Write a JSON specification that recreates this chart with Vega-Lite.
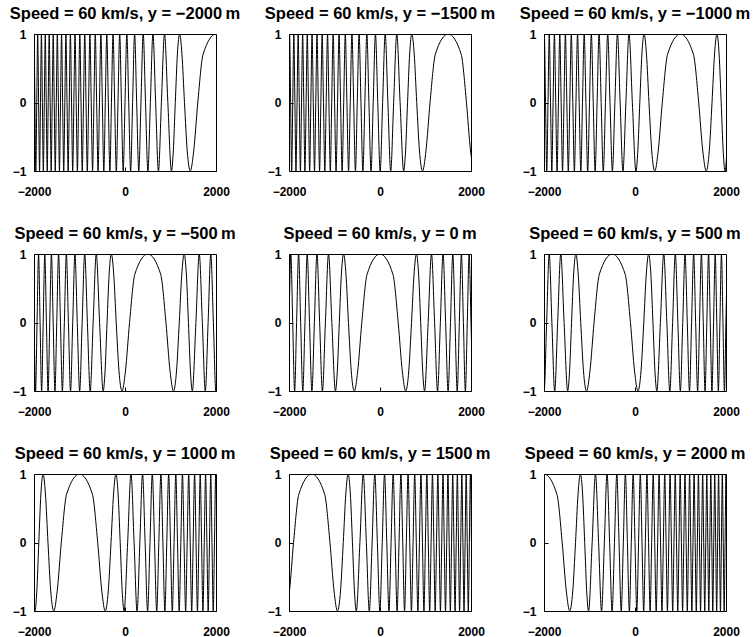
{
"$schema": "https://vega.github.io/schema/vega-lite/v6.json",
"background": "white",
"padding": {"left": 9, "top": 5, "right": 5, "bottom": 5},
"data": {"values": [
{"p":-2000,"x":2282.8,"v":0.7071},{"p":-2000,"x":2000,"v":1},{"p":-2000,"x":1717.2,"v":0.7071},{"p":-2000,"x":1600,"v":0},{"p":-2000,"x":1510.1,"v":-0.7071},{"p":-2000,"x":1434.3,"v":-1},{"p":-2000,"x":1367.5,"v":-0.7071},{"p":-2000,"x":1307.2,"v":0},{"p":-2000,"x":1251.7,"v":0.7071},{"p":-2000,"x":1200,"v":1},{"p":-2000,"x":1151.5,"v":0.7071},{"p":-2000,"x":1105.6,"v":0},{"p":-2000,"x":1061.9,"v":-0.7071},{"p":-2000,"x":1020.2,"v":-1},
{"p":-2000,"x":941.7,"v":0},{"p":-2000,"x":868.6,"v":1},{"p":-2000,"x":800,"v":0},{"p":-2000,"x":735.1,"v":-1},{"p":-2000,"x":673.4,"v":0},{"p":-2000,"x":614.4,"v":1},{"p":-2000,"x":557.8,"v":0},{"p":-2000,"x":503.3,"v":-1},{"p":-2000,"x":450.8,"v":0},{"p":-2000,"x":400,"v":1},{"p":-2000,"x":350.8,"v":0},{"p":-2000,"x":302.9,"v":-1},{"p":-2000,"x":256.4,"v":0},{"p":-2000,"x":211.1,"v":1},{"p":-2000,"x":167,"v":0},{"p":-2000,"x":123.8,"v":-1},{"p":-2000,"x":81.7,"v":0},{"p":-2000,"x":40.4,"v":1},{"p":-2000,"x":0,"v":0},{"p":-2000,"x":-39.6,"v":-1},{"p":-2000,"x":-78.5,"v":0},{"p":-2000,"x":-116.6,"v":1},{"p":-2000,"x":-154.1,"v":0},{"p":-2000,"x":-190.9,"v":-1},{"p":-2000,"x":-227.1,"v":0},{"p":-2000,"x":-262.7,"v":1},{"p":-2000,"x":-297.8,"v":0},{"p":-2000,"x":-332.4,"v":-1},{"p":-2000,"x":-366.4,"v":0},{"p":-2000,"x":-400,"v":1},{"p":-2000,"x":-433.1,"v":0},{"p":-2000,"x":-465.8,"v":-1},{"p":-2000,"x":-498,"v":0},{"p":-2000,"x":-529.8,"v":1},{"p":-2000,"x":-561.2,"v":0},{"p":-2000,"x":-592.3,"v":-1},{"p":-2000,"x":-623,"v":0},{"p":-2000,"x":-653.3,"v":1},{"p":-2000,"x":-683.3,"v":0},{"p":-2000,"x":-712.9,"v":-1},{"p":-2000,"x":-742.3,"v":0},{"p":-2000,"x":-771.3,"v":1},{"p":-2000,"x":-800,"v":0},{"p":-2000,"x":-828.4,"v":-1},{"p":-2000,"x":-856.6,"v":0},{"p":-2000,"x":-884.4,"v":1},{"p":-2000,"x":-912,"v":0},{"p":-2000,"x":-939.4,"v":-1},{"p":-2000,"x":-966.5,"v":0},{"p":-2000,"x":-993.3,"v":1},{"p":-2000,"x":-1019.9,"v":0},{"p":-2000,"x":-1046.3,"v":-1},{"p":-2000,"x":-1072.5,"v":0},{"p":-2000,"x":-1098.4,"v":1},{"p":-2000,"x":-1124.1,"v":0},{"p":-2000,"x":-1149.6,"v":-1},{"p":-2000,"x":-1174.9,"v":0},{"p":-2000,"x":-1200,"v":1},{"p":-2000,"x":-1224.9,"v":0},{"p":-2000,"x":-1249.6,"v":-1},{"p":-2000,"x":-1274.1,"v":0},{"p":-2000,"x":-1298.5,"v":1},{"p":-2000,"x":-1322.6,"v":0},{"p":-2000,"x":-1346.6,"v":-1},{"p":-2000,"x":-1370.5,"v":0},{"p":-2000,"x":-1394.1,"v":1},{"p":-2000,"x":-1417.6,"v":0},{"p":-2000,"x":-1440.9,"v":-1},{"p":-2000,"x":-1464.1,"v":0},{"p":-2000,"x":-1487.1,"v":1},{"p":-2000,"x":-1510,"v":0},{"p":-2000,"x":-1532.7,"v":-1},{"p":-2000,"x":-1555.3,"v":0},{"p":-2000,"x":-1577.7,"v":1},{"p":-2000,"x":-1600,"v":0},{"p":-2000,"x":-1622.2,"v":-1},{"p":-2000,"x":-1644.2,"v":0},{"p":-2000,"x":-1666.1,"v":1},{"p":-2000,"x":-1687.8,"v":0},{"p":-2000,"x":-1709.4,"v":-1},{"p":-2000,"x":-1731,"v":0},{"p":-2000,"x":-1752.3,"v":1},{"p":-2000,"x":-1773.6,"v":0},{"p":-2000,"x":-1794.7,"v":-1},{"p":-2000,"x":-1815.8,"v":0},{"p":-2000,"x":-1836.7,"v":1},{"p":-2000,"x":-1857.5,"v":0},{"p":-2000,"x":-1878.1,"v":-1},{"p":-2000,"x":-1898.7,"v":0},{"p":-2000,"x":-1919.2,"v":1},{"p":-2000,"x":-1939.5,"v":0},{"p":-2000,"x":-1959.8,"v":-1},{"p":-2000,"x":-1980,"v":0},{"p":-2000,"x":-2000,"v":1},{"p":-2000,"x":-2019.9,"v":0},

{"p":2000,"x":-2282.8,"v":0.7071},{"p":2000,"x":-2000,"v":1},{"p":2000,"x":-1717.2,"v":0.7071},{"p":2000,"x":-1600,"v":0},{"p":2000,"x":-1510.1,"v":-0.7071},{"p":2000,"x":-1434.3,"v":-1},{"p":2000,"x":-1367.5,"v":-0.7071},{"p":2000,"x":-1307.2,"v":0},{"p":2000,"x":-1251.7,"v":0.7071},{"p":2000,"x":-1200,"v":1},{"p":2000,"x":-1151.5,"v":0.7071},{"p":2000,"x":-1105.6,"v":0},{"p":2000,"x":-1061.9,"v":-0.7071},{"p":2000,"x":-1020.2,"v":-1},
{"p":2000,"x":-941.7,"v":0},{"p":2000,"x":-868.6,"v":1},{"p":2000,"x":-800,"v":0},{"p":2000,"x":-735.1,"v":-1},{"p":2000,"x":-673.4,"v":0},{"p":2000,"x":-614.4,"v":1},{"p":2000,"x":-557.8,"v":0},{"p":2000,"x":-503.3,"v":-1},{"p":2000,"x":-450.8,"v":0},{"p":2000,"x":-400,"v":1},{"p":2000,"x":-350.8,"v":0},{"p":2000,"x":-302.9,"v":-1},{"p":2000,"x":-256.4,"v":0},{"p":2000,"x":-211.1,"v":1},{"p":2000,"x":-167,"v":0},{"p":2000,"x":-123.8,"v":-1},{"p":2000,"x":-81.7,"v":0},{"p":2000,"x":-40.4,"v":1},{"p":2000,"x":0,"v":0},{"p":2000,"x":39.6,"v":-1},{"p":2000,"x":78.5,"v":0},{"p":2000,"x":116.6,"v":1},{"p":2000,"x":154.1,"v":0},{"p":2000,"x":190.9,"v":-1},{"p":2000,"x":227.1,"v":0},{"p":2000,"x":262.7,"v":1},{"p":2000,"x":297.8,"v":0},{"p":2000,"x":332.4,"v":-1},{"p":2000,"x":366.4,"v":0},{"p":2000,"x":400,"v":1},{"p":2000,"x":433.1,"v":0},{"p":2000,"x":465.8,"v":-1},{"p":2000,"x":498,"v":0},{"p":2000,"x":529.8,"v":1},{"p":2000,"x":561.2,"v":0},{"p":2000,"x":592.3,"v":-1},{"p":2000,"x":623,"v":0},{"p":2000,"x":653.3,"v":1},{"p":2000,"x":683.3,"v":0},{"p":2000,"x":712.9,"v":-1},{"p":2000,"x":742.3,"v":0},{"p":2000,"x":771.3,"v":1},{"p":2000,"x":800,"v":0},{"p":2000,"x":828.4,"v":-1},{"p":2000,"x":856.6,"v":0},{"p":2000,"x":884.4,"v":1},{"p":2000,"x":912,"v":0},{"p":2000,"x":939.4,"v":-1},{"p":2000,"x":966.5,"v":0},{"p":2000,"x":993.3,"v":1},{"p":2000,"x":1019.9,"v":0},{"p":2000,"x":1046.3,"v":-1},{"p":2000,"x":1072.5,"v":0},{"p":2000,"x":1098.4,"v":1},{"p":2000,"x":1124.1,"v":0},{"p":2000,"x":1149.6,"v":-1},{"p":2000,"x":1174.9,"v":0},{"p":2000,"x":1200,"v":1},{"p":2000,"x":1224.9,"v":0},{"p":2000,"x":1249.6,"v":-1},{"p":2000,"x":1274.1,"v":0},{"p":2000,"x":1298.5,"v":1},{"p":2000,"x":1322.6,"v":0},{"p":2000,"x":1346.6,"v":-1},{"p":2000,"x":1370.5,"v":0},{"p":2000,"x":1394.1,"v":1},{"p":2000,"x":1417.6,"v":0},{"p":2000,"x":1440.9,"v":-1},{"p":2000,"x":1464.1,"v":0},{"p":2000,"x":1487.1,"v":1},{"p":2000,"x":1510,"v":0},{"p":2000,"x":1532.7,"v":-1},{"p":2000,"x":1555.3,"v":0},{"p":2000,"x":1577.7,"v":1},{"p":2000,"x":1600,"v":0},{"p":2000,"x":1622.2,"v":-1},{"p":2000,"x":1644.2,"v":0},{"p":2000,"x":1666.1,"v":1},{"p":2000,"x":1687.8,"v":0},{"p":2000,"x":1709.4,"v":-1},{"p":2000,"x":1731,"v":0},{"p":2000,"x":1752.3,"v":1},{"p":2000,"x":1773.6,"v":0},{"p":2000,"x":1794.7,"v":-1},{"p":2000,"x":1815.8,"v":0},{"p":2000,"x":1836.7,"v":1},{"p":2000,"x":1857.5,"v":0},{"p":2000,"x":1878.1,"v":-1},{"p":2000,"x":1898.7,"v":0},{"p":2000,"x":1919.2,"v":1},{"p":2000,"x":1939.5,"v":0},{"p":2000,"x":1959.8,"v":-1},{"p":2000,"x":1980,"v":0},{"p":2000,"x":2000,"v":1},{"p":2000,"x":2019.9,"v":0},

{"p":-1500,"x":2065.7,"v":-1},{"p":-1500,"x":1989.9,"v":-0.7071},{"p":-1500,"x":1900,"v":0},{"p":-1500,"x":1782.8,"v":0.7071},{"p":-1500,"x":1500,"v":1},{"p":-1500,"x":1217.2,"v":0.7071},{"p":-1500,"x":1100,"v":0},{"p":-1500,"x":1010.1,"v":-0.7071},{"p":-1500,"x":934.3,"v":-1},{"p":-1500,"x":867.5,"v":-0.7071},{"p":-1500,"x":807.2,"v":0},{"p":-1500,"x":751.7,"v":0.7071},{"p":-1500,"x":700,"v":1},{"p":-1500,"x":651.5,"v":0.7071},{"p":-1500,"x":605.6,"v":0},{"p":-1500,"x":561.9,"v":-0.7071},{"p":-1500,"x":520.2,"v":-1},
{"p":-1500,"x":441.7,"v":0},{"p":-1500,"x":368.6,"v":1},{"p":-1500,"x":300,"v":0},{"p":-1500,"x":235.1,"v":-1},{"p":-1500,"x":173.4,"v":0},{"p":-1500,"x":114.4,"v":1},{"p":-1500,"x":57.8,"v":0},{"p":-1500,"x":3.3,"v":-1},{"p":-1500,"x":-49.2,"v":0},{"p":-1500,"x":-100,"v":1},{"p":-1500,"x":-149.2,"v":0},{"p":-1500,"x":-197.1,"v":-1},{"p":-1500,"x":-243.6,"v":0},{"p":-1500,"x":-288.9,"v":1},{"p":-1500,"x":-333,"v":0},{"p":-1500,"x":-376.2,"v":-1},{"p":-1500,"x":-418.3,"v":0},{"p":-1500,"x":-459.6,"v":1},{"p":-1500,"x":-500,"v":0},{"p":-1500,"x":-539.6,"v":-1},{"p":-1500,"x":-578.5,"v":0},{"p":-1500,"x":-616.6,"v":1},{"p":-1500,"x":-654.1,"v":0},{"p":-1500,"x":-690.9,"v":-1},{"p":-1500,"x":-727.1,"v":0},{"p":-1500,"x":-762.7,"v":1},{"p":-1500,"x":-797.8,"v":0},{"p":-1500,"x":-832.4,"v":-1},{"p":-1500,"x":-866.4,"v":0},{"p":-1500,"x":-900,"v":1},{"p":-1500,"x":-933.1,"v":0},{"p":-1500,"x":-965.8,"v":-1},{"p":-1500,"x":-998,"v":0},{"p":-1500,"x":-1029.8,"v":1},{"p":-1500,"x":-1061.2,"v":0},{"p":-1500,"x":-1092.3,"v":-1},{"p":-1500,"x":-1123,"v":0},{"p":-1500,"x":-1153.3,"v":1},{"p":-1500,"x":-1183.3,"v":0},{"p":-1500,"x":-1212.9,"v":-1},{"p":-1500,"x":-1242.3,"v":0},{"p":-1500,"x":-1271.3,"v":1},{"p":-1500,"x":-1300,"v":0},{"p":-1500,"x":-1328.4,"v":-1},{"p":-1500,"x":-1356.6,"v":0},{"p":-1500,"x":-1384.4,"v":1},{"p":-1500,"x":-1412,"v":0},{"p":-1500,"x":-1439.4,"v":-1},{"p":-1500,"x":-1466.5,"v":0},{"p":-1500,"x":-1493.3,"v":1},{"p":-1500,"x":-1519.9,"v":0},{"p":-1500,"x":-1546.3,"v":-1},{"p":-1500,"x":-1572.5,"v":0},{"p":-1500,"x":-1598.4,"v":1},{"p":-1500,"x":-1624.1,"v":0},{"p":-1500,"x":-1649.6,"v":-1},{"p":-1500,"x":-1674.9,"v":0},{"p":-1500,"x":-1700,"v":1},{"p":-1500,"x":-1724.9,"v":0},{"p":-1500,"x":-1749.6,"v":-1},{"p":-1500,"x":-1774.1,"v":0},{"p":-1500,"x":-1798.5,"v":1},{"p":-1500,"x":-1822.6,"v":0},{"p":-1500,"x":-1846.6,"v":-1},{"p":-1500,"x":-1870.5,"v":0},{"p":-1500,"x":-1894.1,"v":1},{"p":-1500,"x":-1917.6,"v":0},{"p":-1500,"x":-1940.9,"v":-1},{"p":-1500,"x":-1964.1,"v":0},{"p":-1500,"x":-1987.1,"v":1},{"p":-1500,"x":-2010,"v":0},

{"p":1500,"x":-2065.7,"v":-1},{"p":1500,"x":-1989.9,"v":-0.7071},{"p":1500,"x":-1900,"v":0},{"p":1500,"x":-1782.8,"v":0.7071},{"p":1500,"x":-1500,"v":1},{"p":1500,"x":-1217.2,"v":0.7071},{"p":1500,"x":-1100,"v":0},{"p":1500,"x":-1010.1,"v":-0.7071},{"p":1500,"x":-934.3,"v":-1},{"p":1500,"x":-867.5,"v":-0.7071},{"p":1500,"x":-807.2,"v":0},{"p":1500,"x":-751.7,"v":0.7071},{"p":1500,"x":-700,"v":1},{"p":1500,"x":-651.5,"v":0.7071},{"p":1500,"x":-605.6,"v":0},{"p":1500,"x":-561.9,"v":-0.7071},{"p":1500,"x":-520.2,"v":-1},
{"p":1500,"x":-441.7,"v":0},{"p":1500,"x":-368.6,"v":1},{"p":1500,"x":-300,"v":0},{"p":1500,"x":-235.1,"v":-1},{"p":1500,"x":-173.4,"v":0},{"p":1500,"x":-114.4,"v":1},{"p":1500,"x":-57.8,"v":0},{"p":1500,"x":-3.3,"v":-1},{"p":1500,"x":49.2,"v":0},{"p":1500,"x":100,"v":1},{"p":1500,"x":149.2,"v":0},{"p":1500,"x":197.1,"v":-1},{"p":1500,"x":243.6,"v":0},{"p":1500,"x":288.9,"v":1},{"p":1500,"x":333,"v":0},{"p":1500,"x":376.2,"v":-1},{"p":1500,"x":418.3,"v":0},{"p":1500,"x":459.6,"v":1},{"p":1500,"x":500,"v":0},{"p":1500,"x":539.6,"v":-1},{"p":1500,"x":578.5,"v":0},{"p":1500,"x":616.6,"v":1},{"p":1500,"x":654.1,"v":0},{"p":1500,"x":690.9,"v":-1},{"p":1500,"x":727.1,"v":0},{"p":1500,"x":762.7,"v":1},{"p":1500,"x":797.8,"v":0},{"p":1500,"x":832.4,"v":-1},{"p":1500,"x":866.4,"v":0},{"p":1500,"x":900,"v":1},{"p":1500,"x":933.1,"v":0},{"p":1500,"x":965.8,"v":-1},{"p":1500,"x":998,"v":0},{"p":1500,"x":1029.8,"v":1},{"p":1500,"x":1061.2,"v":0},{"p":1500,"x":1092.3,"v":-1},{"p":1500,"x":1123,"v":0},{"p":1500,"x":1153.3,"v":1},{"p":1500,"x":1183.3,"v":0},{"p":1500,"x":1212.9,"v":-1},{"p":1500,"x":1242.3,"v":0},{"p":1500,"x":1271.3,"v":1},{"p":1500,"x":1300,"v":0},{"p":1500,"x":1328.4,"v":-1},{"p":1500,"x":1356.6,"v":0},{"p":1500,"x":1384.4,"v":1},{"p":1500,"x":1412,"v":0},{"p":1500,"x":1439.4,"v":-1},{"p":1500,"x":1466.5,"v":0},{"p":1500,"x":1493.3,"v":1},{"p":1500,"x":1519.9,"v":0},{"p":1500,"x":1546.3,"v":-1},{"p":1500,"x":1572.5,"v":0},{"p":1500,"x":1598.4,"v":1},{"p":1500,"x":1624.1,"v":0},{"p":1500,"x":1649.6,"v":-1},{"p":1500,"x":1674.9,"v":0},{"p":1500,"x":1700,"v":1},{"p":1500,"x":1724.9,"v":0},{"p":1500,"x":1749.6,"v":-1},{"p":1500,"x":1774.1,"v":0},{"p":1500,"x":1798.5,"v":1},{"p":1500,"x":1822.6,"v":0},{"p":1500,"x":1846.6,"v":-1},{"p":1500,"x":1870.5,"v":0},{"p":1500,"x":1894.1,"v":1},{"p":1500,"x":1917.6,"v":0},{"p":1500,"x":1940.9,"v":-1},{"p":1500,"x":1964.1,"v":0},{"p":1500,"x":1987.1,"v":1},{"p":1500,"x":2010,"v":0},

{"p":-1000,"x":2058.3,"v":0},{"p":-1000,"x":1979.8,"v":-1},{"p":-1000,"x":1938.1,"v":-0.7071},{"p":-1000,"x":1894.4,"v":0},{"p":-1000,"x":1848.5,"v":0.7071},{"p":-1000,"x":1800,"v":1},{"p":-1000,"x":1748.3,"v":0.7071},{"p":-1000,"x":1692.8,"v":0},{"p":-1000,"x":1632.5,"v":-0.7071},{"p":-1000,"x":1565.7,"v":-1},{"p":-1000,"x":1489.9,"v":-0.7071},{"p":-1000,"x":1400,"v":0},{"p":-1000,"x":1282.8,"v":0.7071},{"p":-1000,"x":1000,"v":1},{"p":-1000,"x":717.2,"v":0.7071},{"p":-1000,"x":600,"v":0},{"p":-1000,"x":510.1,"v":-0.7071},{"p":-1000,"x":434.3,"v":-1},{"p":-1000,"x":367.5,"v":-0.7071},{"p":-1000,"x":307.2,"v":0},{"p":-1000,"x":251.7,"v":0.7071},{"p":-1000,"x":200,"v":1},{"p":-1000,"x":151.5,"v":0.7071},{"p":-1000,"x":105.6,"v":0},{"p":-1000,"x":61.9,"v":-0.7071},{"p":-1000,"x":20.2,"v":-1},
{"p":-1000,"x":-58.3,"v":0},{"p":-1000,"x":-131.4,"v":1},{"p":-1000,"x":-200,"v":0},{"p":-1000,"x":-264.9,"v":-1},{"p":-1000,"x":-326.6,"v":0},{"p":-1000,"x":-385.6,"v":1},{"p":-1000,"x":-442.2,"v":0},{"p":-1000,"x":-496.7,"v":-1},{"p":-1000,"x":-549.2,"v":0},{"p":-1000,"x":-600,"v":1},{"p":-1000,"x":-649.2,"v":0},{"p":-1000,"x":-697.1,"v":-1},{"p":-1000,"x":-743.6,"v":0},{"p":-1000,"x":-788.9,"v":1},{"p":-1000,"x":-833,"v":0},{"p":-1000,"x":-876.2,"v":-1},{"p":-1000,"x":-918.3,"v":0},{"p":-1000,"x":-959.6,"v":1},{"p":-1000,"x":-1000,"v":0},{"p":-1000,"x":-1039.6,"v":-1},{"p":-1000,"x":-1078.5,"v":0},{"p":-1000,"x":-1116.6,"v":1},{"p":-1000,"x":-1154.1,"v":0},{"p":-1000,"x":-1190.9,"v":-1},{"p":-1000,"x":-1227.1,"v":0},{"p":-1000,"x":-1262.7,"v":1},{"p":-1000,"x":-1297.8,"v":0},{"p":-1000,"x":-1332.4,"v":-1},{"p":-1000,"x":-1366.4,"v":0},{"p":-1000,"x":-1400,"v":1},{"p":-1000,"x":-1433.1,"v":0},{"p":-1000,"x":-1465.8,"v":-1},{"p":-1000,"x":-1498,"v":0},{"p":-1000,"x":-1529.8,"v":1},{"p":-1000,"x":-1561.2,"v":0},{"p":-1000,"x":-1592.3,"v":-1},{"p":-1000,"x":-1623,"v":0},{"p":-1000,"x":-1653.3,"v":1},{"p":-1000,"x":-1683.3,"v":0},{"p":-1000,"x":-1712.9,"v":-1},{"p":-1000,"x":-1742.3,"v":0},{"p":-1000,"x":-1771.3,"v":1},{"p":-1000,"x":-1800,"v":0},{"p":-1000,"x":-1828.4,"v":-1},{"p":-1000,"x":-1856.6,"v":0},{"p":-1000,"x":-1884.4,"v":1},{"p":-1000,"x":-1912,"v":0},{"p":-1000,"x":-1939.4,"v":-1},{"p":-1000,"x":-1966.5,"v":0},{"p":-1000,"x":-1993.3,"v":1},{"p":-1000,"x":-2019.9,"v":0},

{"p":1000,"x":-2058.3,"v":0},{"p":1000,"x":-1979.8,"v":-1},{"p":1000,"x":-1938.1,"v":-0.7071},{"p":1000,"x":-1894.4,"v":0},{"p":1000,"x":-1848.5,"v":0.7071},{"p":1000,"x":-1800,"v":1},{"p":1000,"x":-1748.3,"v":0.7071},{"p":1000,"x":-1692.8,"v":0},{"p":1000,"x":-1632.5,"v":-0.7071},{"p":1000,"x":-1565.7,"v":-1},{"p":1000,"x":-1489.9,"v":-0.7071},{"p":1000,"x":-1400,"v":0},{"p":1000,"x":-1282.8,"v":0.7071},{"p":1000,"x":-1000,"v":1},{"p":1000,"x":-717.2,"v":0.7071},{"p":1000,"x":-600,"v":0},{"p":1000,"x":-510.1,"v":-0.7071},{"p":1000,"x":-434.3,"v":-1},{"p":1000,"x":-367.5,"v":-0.7071},{"p":1000,"x":-307.2,"v":0},{"p":1000,"x":-251.7,"v":0.7071},{"p":1000,"x":-200,"v":1},{"p":1000,"x":-151.5,"v":0.7071},{"p":1000,"x":-105.6,"v":0},{"p":1000,"x":-61.9,"v":-0.7071},{"p":1000,"x":-20.2,"v":-1},
{"p":1000,"x":58.3,"v":0},{"p":1000,"x":131.4,"v":1},{"p":1000,"x":200,"v":0},{"p":1000,"x":264.9,"v":-1},{"p":1000,"x":326.6,"v":0},{"p":1000,"x":385.6,"v":1},{"p":1000,"x":442.2,"v":0},{"p":1000,"x":496.7,"v":-1},{"p":1000,"x":549.2,"v":0},{"p":1000,"x":600,"v":1},{"p":1000,"x":649.2,"v":0},{"p":1000,"x":697.1,"v":-1},{"p":1000,"x":743.6,"v":0},{"p":1000,"x":788.9,"v":1},{"p":1000,"x":833,"v":0},{"p":1000,"x":876.2,"v":-1},{"p":1000,"x":918.3,"v":0},{"p":1000,"x":959.6,"v":1},{"p":1000,"x":1000,"v":0},{"p":1000,"x":1039.6,"v":-1},{"p":1000,"x":1078.5,"v":0},{"p":1000,"x":1116.6,"v":1},{"p":1000,"x":1154.1,"v":0},{"p":1000,"x":1190.9,"v":-1},{"p":1000,"x":1227.1,"v":0},{"p":1000,"x":1262.7,"v":1},{"p":1000,"x":1297.8,"v":0},{"p":1000,"x":1332.4,"v":-1},{"p":1000,"x":1366.4,"v":0},{"p":1000,"x":1400,"v":1},{"p":1000,"x":1433.1,"v":0},{"p":1000,"x":1465.8,"v":-1},{"p":1000,"x":1498,"v":0},{"p":1000,"x":1529.8,"v":1},{"p":1000,"x":1561.2,"v":0},{"p":1000,"x":1592.3,"v":-1},{"p":1000,"x":1623,"v":0},{"p":1000,"x":1653.3,"v":1},{"p":1000,"x":1683.3,"v":0},{"p":1000,"x":1712.9,"v":-1},{"p":1000,"x":1742.3,"v":0},{"p":1000,"x":1771.3,"v":1},{"p":1000,"x":1800,"v":0},{"p":1000,"x":1828.4,"v":-1},{"p":1000,"x":1856.6,"v":0},{"p":1000,"x":1884.4,"v":1},{"p":1000,"x":1912,"v":0},{"p":1000,"x":1939.4,"v":-1},{"p":1000,"x":1966.5,"v":0},{"p":1000,"x":1993.3,"v":1},{"p":1000,"x":2019.9,"v":0},

{"p":-500,"x":2049.2,"v":0},{"p":-500,"x":1996.7,"v":-1},{"p":-500,"x":1942.2,"v":0},{"p":-500,"x":1885.6,"v":1},{"p":-500,"x":1826.6,"v":0},{"p":-500,"x":1764.9,"v":-1},{"p":-500,"x":1700,"v":0},{"p":-500,"x":1631.4,"v":1},{"p":-500,"x":1558.3,"v":0},{"p":-500,"x":1479.8,"v":-1},{"p":-500,"x":1438.1,"v":-0.7071},{"p":-500,"x":1394.4,"v":0},{"p":-500,"x":1348.5,"v":0.7071},{"p":-500,"x":1300,"v":1},{"p":-500,"x":1248.3,"v":0.7071},{"p":-500,"x":1192.8,"v":0},{"p":-500,"x":1132.5,"v":-0.7071},{"p":-500,"x":1065.7,"v":-1},{"p":-500,"x":989.9,"v":-0.7071},{"p":-500,"x":900,"v":0},{"p":-500,"x":782.8,"v":0.7071},{"p":-500,"x":500,"v":1},{"p":-500,"x":217.2,"v":0.7071},{"p":-500,"x":100,"v":0},{"p":-500,"x":10.1,"v":-0.7071},{"p":-500,"x":-65.7,"v":-1},{"p":-500,"x":-132.5,"v":-0.7071},{"p":-500,"x":-192.8,"v":0},{"p":-500,"x":-248.3,"v":0.7071},{"p":-500,"x":-300,"v":1},{"p":-500,"x":-348.5,"v":0.7071},{"p":-500,"x":-394.4,"v":0},{"p":-500,"x":-438.1,"v":-0.7071},{"p":-500,"x":-479.8,"v":-1},
{"p":-500,"x":-558.3,"v":0},{"p":-500,"x":-631.4,"v":1},{"p":-500,"x":-700,"v":0},{"p":-500,"x":-764.9,"v":-1},{"p":-500,"x":-826.6,"v":0},{"p":-500,"x":-885.6,"v":1},{"p":-500,"x":-942.2,"v":0},{"p":-500,"x":-996.7,"v":-1},{"p":-500,"x":-1049.2,"v":0},{"p":-500,"x":-1100,"v":1},{"p":-500,"x":-1149.2,"v":0},{"p":-500,"x":-1197.1,"v":-1},{"p":-500,"x":-1243.6,"v":0},{"p":-500,"x":-1288.9,"v":1},{"p":-500,"x":-1333,"v":0},{"p":-500,"x":-1376.2,"v":-1},{"p":-500,"x":-1418.3,"v":0},{"p":-500,"x":-1459.6,"v":1},{"p":-500,"x":-1500,"v":0},{"p":-500,"x":-1539.6,"v":-1},{"p":-500,"x":-1578.5,"v":0},{"p":-500,"x":-1616.6,"v":1},{"p":-500,"x":-1654.1,"v":0},{"p":-500,"x":-1690.9,"v":-1},{"p":-500,"x":-1727.1,"v":0},{"p":-500,"x":-1762.7,"v":1},{"p":-500,"x":-1797.8,"v":0},{"p":-500,"x":-1832.4,"v":-1},{"p":-500,"x":-1866.4,"v":0},{"p":-500,"x":-1900,"v":1},{"p":-500,"x":-1933.1,"v":0},{"p":-500,"x":-1965.8,"v":-1},{"p":-500,"x":-1998,"v":0},{"p":-500,"x":-2029.8,"v":1},

{"p":500,"x":-2049.2,"v":0},{"p":500,"x":-1996.7,"v":-1},{"p":500,"x":-1942.2,"v":0},{"p":500,"x":-1885.6,"v":1},{"p":500,"x":-1826.6,"v":0},{"p":500,"x":-1764.9,"v":-1},{"p":500,"x":-1700,"v":0},{"p":500,"x":-1631.4,"v":1},{"p":500,"x":-1558.3,"v":0},{"p":500,"x":-1479.8,"v":-1},{"p":500,"x":-1438.1,"v":-0.7071},{"p":500,"x":-1394.4,"v":0},{"p":500,"x":-1348.5,"v":0.7071},{"p":500,"x":-1300,"v":1},{"p":500,"x":-1248.3,"v":0.7071},{"p":500,"x":-1192.8,"v":0},{"p":500,"x":-1132.5,"v":-0.7071},{"p":500,"x":-1065.7,"v":-1},{"p":500,"x":-989.9,"v":-0.7071},{"p":500,"x":-900,"v":0},{"p":500,"x":-782.8,"v":0.7071},{"p":500,"x":-500,"v":1},{"p":500,"x":-217.2,"v":0.7071},{"p":500,"x":-100,"v":0},{"p":500,"x":-10.1,"v":-0.7071},{"p":500,"x":65.7,"v":-1},{"p":500,"x":132.5,"v":-0.7071},{"p":500,"x":192.8,"v":0},{"p":500,"x":248.3,"v":0.7071},{"p":500,"x":300,"v":1},{"p":500,"x":348.5,"v":0.7071},{"p":500,"x":394.4,"v":0},{"p":500,"x":438.1,"v":-0.7071},{"p":500,"x":479.8,"v":-1},
{"p":500,"x":558.3,"v":0},{"p":500,"x":631.4,"v":1},{"p":500,"x":700,"v":0},{"p":500,"x":764.9,"v":-1},{"p":500,"x":826.6,"v":0},{"p":500,"x":885.6,"v":1},{"p":500,"x":942.2,"v":0},{"p":500,"x":996.7,"v":-1},{"p":500,"x":1049.2,"v":0},{"p":500,"x":1100,"v":1},{"p":500,"x":1149.2,"v":0},{"p":500,"x":1197.1,"v":-1},{"p":500,"x":1243.6,"v":0},{"p":500,"x":1288.9,"v":1},{"p":500,"x":1333,"v":0},{"p":500,"x":1376.2,"v":-1},{"p":500,"x":1418.3,"v":0},{"p":500,"x":1459.6,"v":1},{"p":500,"x":1500,"v":0},{"p":500,"x":1539.6,"v":-1},{"p":500,"x":1578.5,"v":0},{"p":500,"x":1616.6,"v":1},{"p":500,"x":1654.1,"v":0},{"p":500,"x":1690.9,"v":-1},{"p":500,"x":1727.1,"v":0},{"p":500,"x":1762.7,"v":1},{"p":500,"x":1797.8,"v":0},{"p":500,"x":1832.4,"v":-1},{"p":500,"x":1866.4,"v":0},{"p":500,"x":1900,"v":1},{"p":500,"x":1933.1,"v":0},{"p":500,"x":1965.8,"v":-1},{"p":500,"x":1998,"v":0},{"p":500,"x":2029.8,"v":1},

{"p":0,"x":-2039.6,"v":-1},{"p":0,"x":-2000,"v":0},{"p":0,"x":-1959.6,"v":1},{"p":0,"x":-1918.3,"v":0},{"p":0,"x":-1876.2,"v":-1},{"p":0,"x":-1833,"v":0},{"p":0,"x":-1788.9,"v":1},{"p":0,"x":-1743.6,"v":0},{"p":0,"x":-1697.1,"v":-1},{"p":0,"x":-1649.2,"v":0},{"p":0,"x":-1600,"v":1},{"p":0,"x":-1549.2,"v":0},{"p":0,"x":-1496.7,"v":-1},{"p":0,"x":-1442.2,"v":0},{"p":0,"x":-1385.6,"v":1},{"p":0,"x":-1326.6,"v":0},{"p":0,"x":-1264.9,"v":-1},{"p":0,"x":-1200,"v":0},{"p":0,"x":-1131.4,"v":1},{"p":0,"x":-1058.3,"v":0},{"p":0,"x":-979.8,"v":-1},{"p":0,"x":-938.1,"v":-0.7071},{"p":0,"x":-894.4,"v":0},{"p":0,"x":-848.5,"v":0.7071},{"p":0,"x":-800,"v":1},{"p":0,"x":-748.3,"v":0.7071},{"p":0,"x":-692.8,"v":0},{"p":0,"x":-632.5,"v":-0.7071},{"p":0,"x":-565.7,"v":-1},{"p":0,"x":-489.9,"v":-0.7071},{"p":0,"x":-400,"v":0},{"p":0,"x":-282.8,"v":0.7071},{"p":0,"x":0,"v":1},
{"p":0,"x":282.8,"v":0.7071},{"p":0,"x":400,"v":0},{"p":0,"x":489.9,"v":-0.7071},{"p":0,"x":565.7,"v":-1},{"p":0,"x":632.5,"v":-0.7071},{"p":0,"x":692.8,"v":0},{"p":0,"x":748.3,"v":0.7071},{"p":0,"x":800,"v":1},{"p":0,"x":848.5,"v":0.7071},{"p":0,"x":894.4,"v":0},{"p":0,"x":938.1,"v":-0.7071},{"p":0,"x":979.8,"v":-1},{"p":0,"x":1058.3,"v":0},{"p":0,"x":1131.4,"v":1},{"p":0,"x":1200,"v":0},{"p":0,"x":1264.9,"v":-1},{"p":0,"x":1326.6,"v":0},{"p":0,"x":1385.6,"v":1},{"p":0,"x":1442.2,"v":0},{"p":0,"x":1496.7,"v":-1},{"p":0,"x":1549.2,"v":0},{"p":0,"x":1600,"v":1},{"p":0,"x":1649.2,"v":0},{"p":0,"x":1697.1,"v":-1},{"p":0,"x":1743.6,"v":0},{"p":0,"x":1788.9,"v":1},{"p":0,"x":1833,"v":0},{"p":0,"x":1876.2,"v":-1},{"p":0,"x":1918.3,"v":0},{"p":0,"x":1959.6,"v":1},{"p":0,"x":2000,"v":0},{"p":0,"x":2039.6,"v":-1}
]},
"facet": {
  "field": "p", "type": "ordinal",
  "header": {
    "title": null,
    "labelExpr": "'Speed = 60 km/s, y = ' + (datum.value < 0 ? '\u2212' + (-datum.value) : datum.value) + '\u2009m'",
    "labelFont": "Liberation Sans", "labelFontSize": 16.5, "labelFontWeight": "bold", "labelColor": "black", "labelPadding": 6
  }
},
"columns": 3,
"spacing": {"row": 83, "column": 73},
"bounds": "flush",
"resolve": {"axis": {"x": "independent", "y": "independent"}},
"spec": {
  "width": 182, "height": 137,
  "mark": {"type": "line", "interpolate": "monotone", "clip": true, "color": "black", "strokeWidth": 1},
  "encoding": {
    "x": {"field": "x", "type": "quantitative", "scale": {"domain": [-2000, 2000], "nice": false, "zero": false}, "axis": {"values": [-2000, 0, 2000], "title": null, "labelFlush": false, "labelPadding": 19, "labelExpr": "datum.value < 0 ? '\u2212' + (-datum.value) : '' + datum.value"}},
    "y": {"field": "v", "type": "quantitative", "scale": {"domain": [-1, 1], "nice": false, "zero": false}, "axis": {"values": [-1, 0, 1], "title": null, "labelPadding": 12, "labelExpr": "datum.value < 0 ? '\u2212' + (-datum.value) : '' + datum.value"}}
  }
},
"config": {
  "view": {"stroke": "black", "strokeWidth": 1},
  "axis": {"domain": false, "grid": false, "ticks": true, "tickSize": -4, "tickColor": "black", "labelFont": "Liberation Sans", "labelFontSize": 12, "labelFontWeight": "bold", "labelColor": "black", "labelOverlap": false}
}
}
